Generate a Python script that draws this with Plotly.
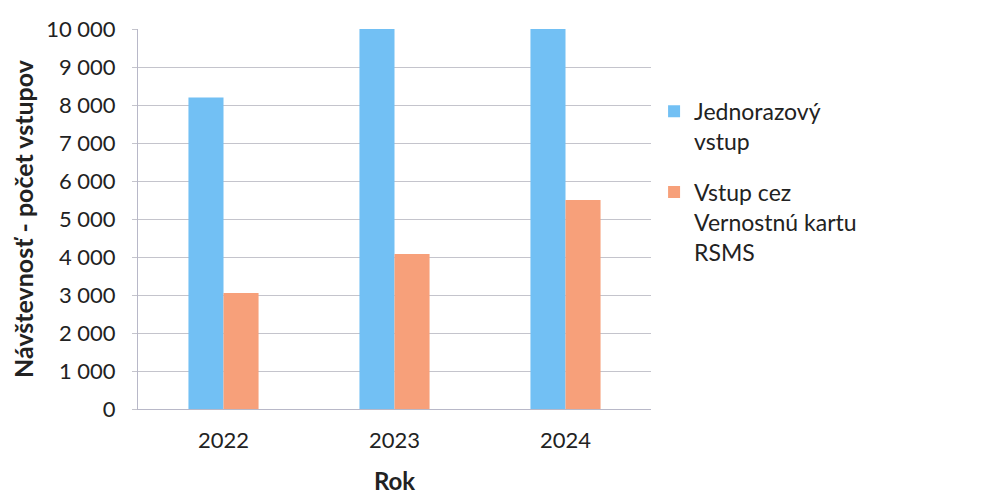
import plotly.graph_objects as go

years = ["2022", "2023", "2024"]
jednorazovy = [8200, 10000, 10000]
vernostna = [3050, 4080, 5500]
series_names = ["Jednorazový<br>vstup", "Vstup cez<br>Vernostnú kartu<br>RSMS"]
y_ticks = [0, 1000, 2000, 3000, 4000, 5000, 6000, 7000, 8000, 9000, 10000]
y_tick_labels = ["0", "1 000", "2 000", "3 000", "4 000", "5 000", "6 000", "7 000", "8 000", "9 000", "10 000"]

FONT = "Lato"

fig = go.Figure()
fig.add_trace(go.Bar(x=years, y=jednorazovy, name=series_names[0], legendgroup="a",
                     marker_color="#72C0F4", marker_line_width=0))
fig.add_trace(go.Bar(x=years, y=vernostna, name=series_names[1], legendgroup="b",
                     marker_color="#F7A07A", marker_line_width=0))

fig.update_layout(
    width=986, height=500,
    margin=dict(l=130, r=343, t=21, b=99, autoexpand=False),
    paper_bgcolor="white", plot_bgcolor="white",
    barmode="group", bargap=0.59, bargroupgap=0,
    font=dict(family=FONT, size=22, color="#222"),
    legend=dict(x=1.006, y=0.84, xref="paper", xanchor="left", yanchor="top", valign="top",
                font=dict(family=FONT, size=23, color="#222"),
                tracegroupgap=18, itemwidth=30, bgcolor="rgba(0,0,0,0)"),
)
fig.update_xaxes(
    type="category", showgrid=False, showline=True, linecolor="#b8b8c8", linewidth=1,
    ticks="", tickfont=dict(size=22, color="#222"), ticklabelstandoff=12, automargin=False,
    title=dict(text="<b>Rok</b>", font=dict(size=24, color="#222"), standoff=20),
)
fig.update_yaxes(
    range=[0, 10000], tickvals=y_ticks, ticktext=y_tick_labels,
    showgrid=True, gridcolor="#c4c4cc", gridwidth=1,
    showline=True, linecolor="#b8b8c8", linewidth=1,
    ticks="outside", ticklen=5, tickcolor="#c4c4cc",
    tickfont=dict(size=22, color="#222"), ticklabelstandoff=12, automargin=False,
    title=dict(text="<b>Návštevnosť - počet vstupov</b>", font=dict(size=25, color="#222"), standoff=10),
    zeroline=False,
)

fig.write_html("out.html")
